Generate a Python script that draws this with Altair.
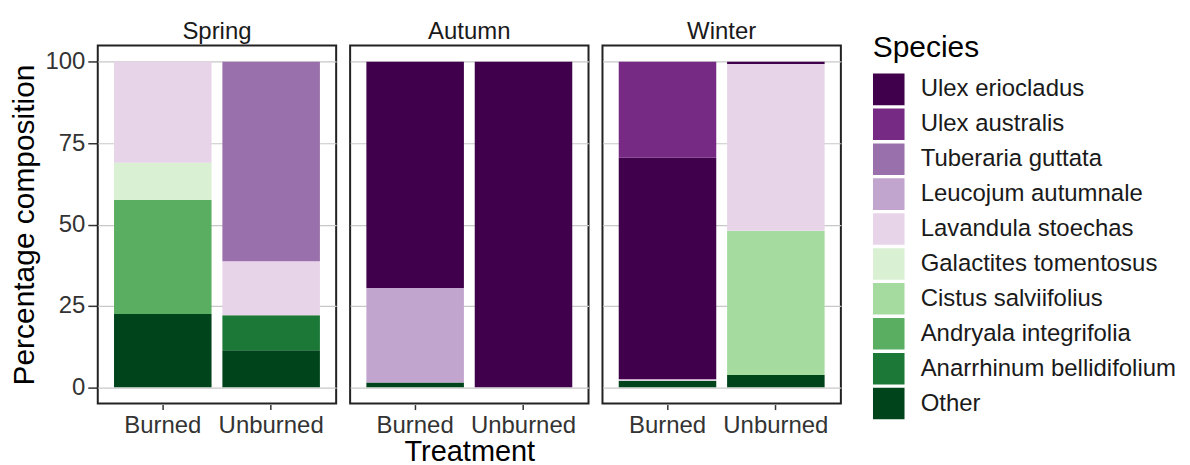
import altair as alt
import pandas as pd

species = ["Ulex eriocladus", "Ulex australis", "Tuberaria guttata", "Leucojum autumnale",
           "Lavandula stoechas", "Galactites tomentosus", "Cistus salviifolius",
           "Andryala integrifolia", "Anarrhinum bellidifolium", "Other"]
colors = ["#40004b", "#762a83", "#9970ab", "#c2a5cf", "#e7d4e8",
          "#d9f0d3", "#a6dba0", "#5aae61", "#1b7837", "#00441b"]
seasons = ["Spring", "Autumn", "Winter"]
treatments = ["Burned", "Unburned"]

# stacks listed from bottom to top
row_season = ["Spring"] * 8 + ["Autumn"] * 4 + ["Winter"] * 8
row_treat = (["Burned"] * 4 + ["Unburned"] * 4 + ["Burned"] * 3 + ["Unburned"] * 1
             + ["Burned"] * 4 + ["Unburned"] * 4)
row_species = [
    "Other", "Andryala integrifolia", "Galactites tomentosus", "Lavandula stoechas",
    "Other", "Anarrhinum bellidifolium", "Lavandula stoechas", "Tuberaria guttata",
    "Other", "Leucojum autumnale", "Ulex eriocladus",
    "Ulex eriocladus",
    "Other", "Lavandula stoechas", "Ulex eriocladus", "Ulex australis",
    "Other", "Cistus salviifolius", "Lavandula stoechas", "Ulex eriocladus",
]
row_value = [22.5, 35.0, 11.5, 31.0,
             11.4, 10.7, 16.6, 61.3,
             1.5, 29.0, 69.5,
             100.0,
             2.0, 0.5, 68.0, 29.5,
             3.8, 44.3, 51.2, 0.7]
row_rank = [0, 1, 2, 3, 0, 1, 2, 3, 0, 1, 2, 0, 0, 1, 2, 3, 0, 1, 2, 3]

df = pd.DataFrame({
    "Season": row_season, "Treatment": row_treat, "Species": row_species,
    "Value": row_value, "Rank": row_rank,
})

FONT = "Liberation Sans"

chart = alt.Chart(df).mark_bar(strokeWidth=0).encode(
    x=alt.X("Treatment:N", sort=treatments,
            scale=alt.Scale(paddingInner=0.1, paddingOuter=0.15),
            axis=alt.Axis(title=None, labelAngle=0, labelFontSize=24, labelColor="#333333",
                          labelFont=FONT, tickSize=5, tickColor="#333333", tickWidth=1.5,
                          domain=False, labelPadding=4)),
    y=alt.Y("Value:Q", stack="zero",
            scale=alt.Scale(domain=[-5, 105], nice=False, zero=False),
            axis=alt.Axis(title="Percentage composition", values=[0, 25, 50, 75, 100],
                          labelFontSize=24, labelColor="#333333", labelFont=FONT,
                          titleFontSize=30, titleFont=FONT, titleFontWeight="normal",
                          titleColor="#000000", tickSize=9, tickColor="#333333",
                          tickWidth=1.5, domain=False, gridColor="#c8c8c8", gridWidth=1.2,
                          labelPadding=3, titlePadding=5)),
    color=alt.Color("Species:N", sort=species,
                    scale=alt.Scale(domain=species, range=colors),
                    legend=alt.Legend(title="Species", symbolType="square", symbolSize=1000,
                                      symbolStrokeWidth=0, rowPadding=3, labelLimit=400,
                                      labelFontSize=24, labelFont=FONT, labelColor="#1a1a1a",
                                      titleFontSize=30, titleFont=FONT,
                                      titleFontWeight="normal", titleColor="#000000",
                                      titlePadding=10, labelOffset=16, padding=0,
                                      orient="none", legendX=777, legendY=-12)),
    order=alt.Order("Rank:Q", sort="ascending"),
).properties(width=239, height=359).facet(
    column=alt.Column("Season:N", sort=seasons, title="Treatment",
                      header=alt.Header(titleOrient="bottom", labelOrient="top",
                                        labelFontSize=24, labelFont=FONT, labelColor="#1a1a1a",
                                        titleFontSize=29, titleFont=FONT,
                                        titleFontWeight="normal", titleColor="#000000",
                                        labelPadding=1, titlePadding=-9)),
    spacing=12,
).configure_view(
    stroke="#222222", strokeWidth=2,
).configure(
    padding={"left": 1, "top": 11, "right": 5, "bottom": 0}, background="white",
    style={"cell": {"stroke": "#222222", "strokeWidth": 2}},
)

chart.save("out.html", embed_options={"renderer": "svg", "actions": False})
